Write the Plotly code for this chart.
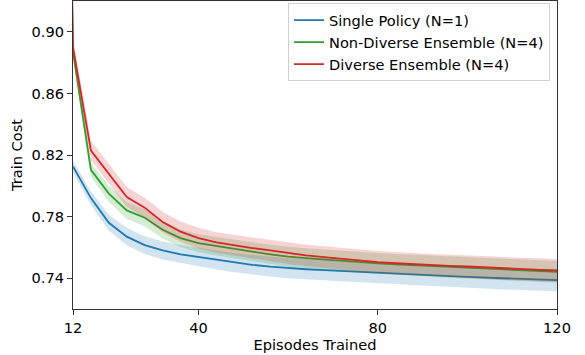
import plotly.graph_objects as go

episodes = [8, 12, 16, 20, 24, 28, 32, 36, 40, 44, 48, 52, 56, 60, 64, 68, 72, 76, 80,
            84, 88, 92, 96, 100, 104, 108, 112, 116, 120]

single_mean = [None, 0.8125, 0.7920, 0.7760, 0.7670, 0.7615, 0.7580, 0.7555, 0.7538, 0.7518,
               0.7500, 0.7487, 0.7475, 0.7465, 0.7458, 0.7452, 0.7447, 0.7442, 0.7438,
               0.7431, 0.7425, 0.7420, 0.7414, 0.7408, 0.7403, 0.7398, 0.7394, 0.7390, 0.7387]
single_std = [None, 0.0038, 0.0045, 0.0052, 0.0056, 0.0058, 0.0059, 0.0060, 0.0061, 0.0062,
              0.0062, 0.0063, 0.0064, 0.0065, 0.0066, 0.0066, 0.0067, 0.0067, 0.0068,
              0.0068, 0.0069, 0.0069, 0.0070, 0.0070, 0.0070, 0.0071, 0.0071, 0.0072, 0.0072]

nondiv_mean = [1.5, 0.8870, 0.8104, 0.7949, 0.7840, 0.7793, 0.7715, 0.7660, 0.7627, 0.7608,
               0.7588, 0.7572, 0.7555, 0.7540, 0.7530, 0.7521, 0.7512, 0.7503, 0.7496,
               0.7490, 0.7484, 0.7478, 0.7472, 0.7468, 0.7462, 0.7456, 0.7450, 0.7446, 0.7441]
nondiv_std = [0.004, 0.0040, 0.0045, 0.0052, 0.0055, 0.0056, 0.0057, 0.0058, 0.0059, 0.0060,
              0.0061, 0.0062, 0.0063, 0.0064, 0.0065, 0.0065, 0.0066, 0.0066, 0.0067,
              0.0067, 0.0068, 0.0068, 0.0069, 0.0069, 0.0070, 0.0070, 0.0070, 0.0071, 0.0071]

div_mean = [1.6, 0.8900, 0.8229, 0.8078, 0.7927, 0.7858, 0.7765, 0.7702, 0.7660, 0.7632,
            0.7612, 0.7596, 0.7580, 0.7562, 0.7548, 0.7537, 0.7525, 0.7514, 0.7505,
            0.7497, 0.7490, 0.7484, 0.7480, 0.7476, 0.7470, 0.7463, 0.7458, 0.7454, 0.7450]
div_std = [0.006, 0.0055, 0.0062, 0.0064, 0.0065, 0.0065, 0.0066, 0.0066, 0.0067, 0.0067,
           0.0068, 0.0068, 0.0069, 0.0070, 0.0070, 0.0071, 0.0071, 0.0072, 0.0072,
           0.0072, 0.0073, 0.0073, 0.0073, 0.0074, 0.0074, 0.0074, 0.0075, 0.0075, 0.0075]

series = [
    ("Single Policy (N=1)", single_mean, single_std, "#1f77b4", "rgba(31,119,180,0.2)"),
    ("Non-Diverse Ensemble (N=4)", nondiv_mean, nondiv_std, "#2ca02c", "rgba(44,160,44,0.2)"),
    ("Diverse Ensemble (N=4)", div_mean, div_std, "#d62728", "rgba(214,39,40,0.2)"),
]

FS = 14.6

fig = go.Figure()
for name, mean, std, color, fill in series:
    xs = [x for x, m in zip(episodes, mean) if m is not None]
    ms = [m for m in mean if m is not None]
    ss = [s for s, m in zip(std, mean) if m is not None]
    upper = [m + s for m, s in zip(ms, ss)]
    lower = [m - s for m, s in zip(ms, ss)]
    fig.add_trace(go.Scatter(x=xs + xs[::-1], y=upper + lower[::-1], fill="toself",
                             fillcolor=fill, line=dict(width=0), mode="lines",
                             hoverinfo="skip", showlegend=False))
    fig.add_trace(go.Scatter(x=xs, y=ms, mode="lines", name=name,
                             line=dict(color=color, width=1.8)))

axis_common = dict(showline=True, linecolor="#333", linewidth=1.2, mirror=True,
                   ticks="outside", ticklen=5, tickcolor="#333", showgrid=False,
                   zeroline=False, tickfont=dict(size=FS, color="black"))

fig.update_layout(
    width=585, height=355,
    margin=dict(l=73, r=28, t=1, b=46),
    paper_bgcolor="white", plot_bgcolor="white",
    font=dict(family="DejaVu Sans", size=FS, color="black"),
    xaxis=dict(range=[12, 120], tickvals=[12, 40, 80, 120],
               title=dict(text="Episodes Trained", font=dict(size=FS), standoff=4),
               **axis_common),
    yaxis=dict(range=[0.72, 0.92], tickvals=[0.74, 0.78, 0.82, 0.86, 0.90],
               tickformat=".2f",
               title=dict(text="Train Cost", font=dict(size=FS), standoff=5),
               **axis_common),
    legend=dict(x=0.9855, y=0.993, xanchor="right", yanchor="top",
                bgcolor="white", bordercolor="#d0d0d0", borderwidth=1,
                font=dict(size=FS), tracegroupgap=0),
)

fig.write_html("out.html", config={"displayModeBar": False},
               post_script="document.body.style.margin='0';document.body.style.overflow='hidden';")
